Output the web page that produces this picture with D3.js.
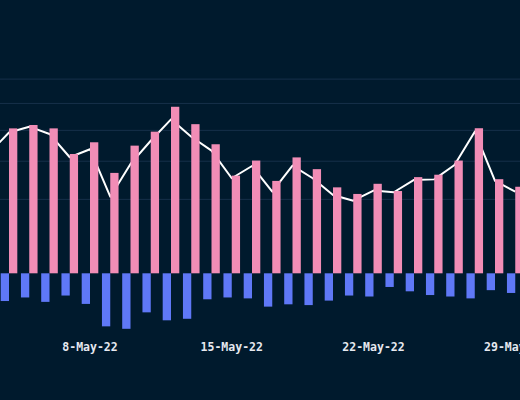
<!DOCTYPE html>
<html>
<head>
<meta charset="utf-8">
<script src="https://cdn.jsdelivr.net/npm/d3@7"></script>
<style>
    body { margin: 0; background: #001a2d; }
    svg { display: block; }
</style>
</head>
<body>
<div id="chart"></div>
<script>
    // Daily values, 3-May-22 .. 29-May-22 (3-May only shows in the line)
    var dates = ["2022-05-03", "2022-05-04", "2022-05-05", "2022-05-06", "2022-05-07", "2022-05-08",
        "2022-05-09", "2022-05-10", "2022-05-11", "2022-05-12", "2022-05-13", "2022-05-14",
        "2022-05-15", "2022-05-16", "2022-05-17", "2022-05-18", "2022-05-19", "2022-05-20",
        "2022-05-21", "2022-05-22", "2022-05-23", "2022-05-24", "2022-05-25", "2022-05-26",
        "2022-05-27", "2022-05-28", "2022-05-29"]

    var inflow = [null, 61.4, 63.8, 61.4, 44.4, 51.9, 33.3, 49.7, 59.1, 77.4, 64.4, 50.6, 31.8,
        40.4, 29.0, 42.3, 35.4, 25.7, 22.5, 27.5, 23.9, 31.0, 32.3, 40.4, 61.5, 29.9, 26.0]

    var outflow = [null, -3.9, -3.1, -4.1, -2.7, -4.6, -11.5, -12.4, -6.9, -9.4, -8.9, -3.5, -3.1,
        -3.3, -5.3, -4.7, -4.9, -3.8, -2.7, -2.9, -1.2, -1.9, -2.6, -2.9, -3.3, -1.7, -2.2]

    var net = [44.6, 58.5, 62.6, 57.5, 42.4, 47.4, 21.2, 38.4, 52.9, 67.9, 55.6, 46.5, 30.4,
        37.2, 23.6, 37.4, 30.4, 22.0, 19.4, 24.1, 23.3, 29.5, 29.8, 37.8, 59.1, 29.0, 23.6]

    var gridValues = [20, 40, 60, 80, 100]
    var tickDates = ["2022-05-08", "2022-05-15", "2022-05-22", "2022-05-29"]

    var width = 520
    var height = 400

    var parseDate = d3.timeParse("%Y-%m-%d")
    var formatDate = d3.timeFormat("%-d-%b-%y")

    var graph = d3.select('#chart')
                    .append('svg')
                    .attr('width', width)
                    .attr('height', height)

    graph.append('rect')
        .attr('width', width)
        .attr('height', height)
        .attr('fill', '#001a2d')

    // x: one band per day, the plot runs past both edges of the frame
    var xScale = d3.scaleBand()
                    .domain(dates)
                    .range([-21.375, 525.375])
                    .paddingInner(0.18)
                    .paddingOuter(0.09)

    // y: power scale, negatives mirror below zero
    var yScale = d3.scalePow()
                    .exponent(0.6)
                    .domain([0, 100])
                    .range([273.3, 79.1])

    var half = xScale.bandwidth() / 2

    // Gridlines
    graph.append('g')
        .attr('class', 'grid')
        .selectAll('line')
        .data(gridValues)
        .enter()
        .append('line')
            .attr('x1', 0)
            .attr('x2', width)
            .attr('y1', (d) => yScale(d))
            .attr('y2', (d) => yScale(d))
            .attr('stroke', '#16304a')
            .attr('stroke-width', 1)

    // Net line sits behind the bars
    var rows = dates.map((d, i) => ({ date: d, inflow: inflow[i], outflow: outflow[i], net: net[i] }))

    var line = d3.line()
                .x((d) => xScale(d.date) + half)
                .y((d) => yScale(d.net))

    graph.append('path')
        .datum(rows)
        .attr('d', line)
        .attr('fill', 'none')
        .attr('stroke', '#ffffff')
        .attr('stroke-width', 2)
        .attr('stroke-linejoin', 'round')

    var barRows = rows.filter((d) => d.inflow !== null)

    // Outflow bars (left half of each day)
    graph.append('g')
        .selectAll('rect')
        .data(barRows)
        .enter()
        .append('rect')
            .attr('x', (d) => xScale(d.date))
            .attr('y', yScale(0))
            .attr('width', half)
            .attr('height', (d) => yScale(d.outflow) - yScale(0))
            .attr('fill', '#5f78f7')

    // Inflow bars (right half)
    graph.append('g')
        .selectAll('rect')
        .data(barRows)
        .enter()
        .append('rect')
            .attr('x', (d) => xScale(d.date) + half)
            .attr('y', (d) => yScale(d.inflow))
            .attr('width', half)
            .attr('height', (d) => yScale(0) - yScale(d.inflow))
            .attr('fill', '#f18db6')

    // x axis labels
    var xAxis = d3.axisBottom(xScale)
                    .tickValues(tickDates)
                    .tickSize(0)
                    .tickPadding(8)
                    .tickFormat((d) => formatDate(parseDate(d)))

    var axisGroup = graph.append('g')
        .attr('transform', 'translate(0,335)')
        .call(xAxis)

    axisGroup.select('.domain').remove()
    axisGroup.selectAll('text')
        .attr('fill', '#e6e9f0')
        .style('font-family', '"DejaVu Sans Mono", "Liberation Mono", monospace')
        .style('font-size', '11.5px')
        .style('font-weight', '600')
</script>
</body>
</html>
